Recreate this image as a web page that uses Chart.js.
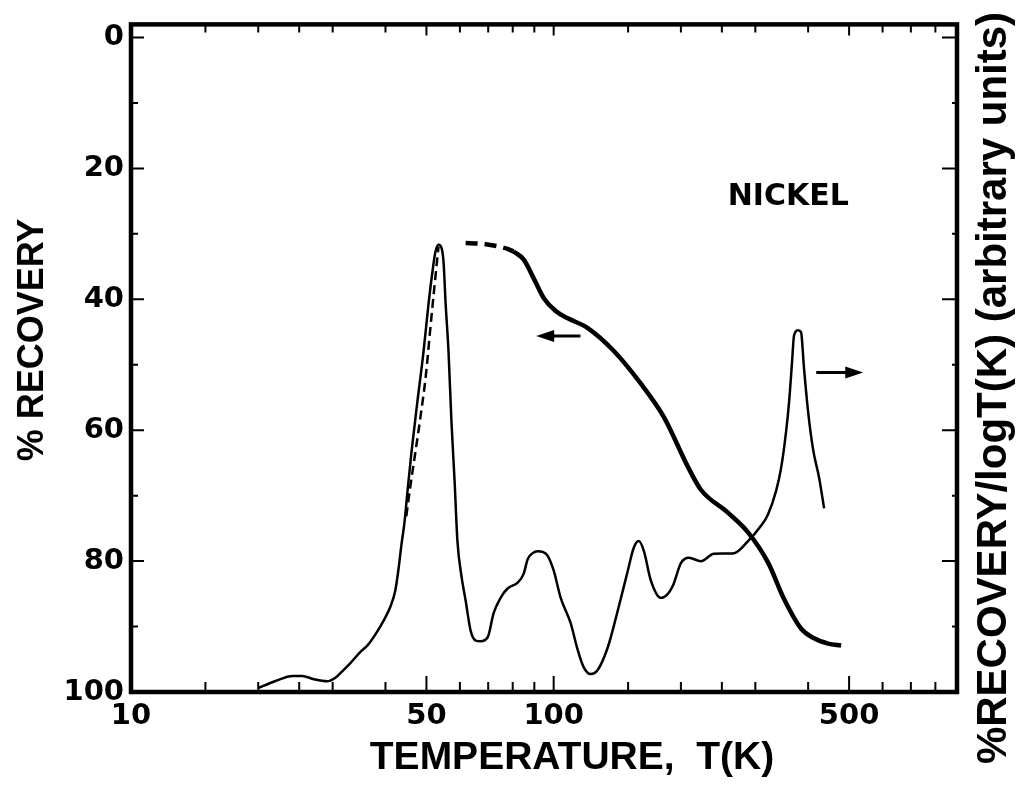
<!DOCTYPE html>
<html>
<head>
<meta charset="utf-8">
<script src="https://cdn.jsdelivr.net/npm/chart.js@4.4.1/dist/chart.umd.min.js"></script>
<style>
html, body { margin: 0; padding: 0; background: #fff; }
#wrap { width: 1021px; height: 794px; }
</style>
</head>
<body>
<div id="wrap"><canvas id="nickel"></canvas></div>
<script>
// % recovery vs T (left axis, thick curve); dashed part at low T
const recDashT = [61.9, 67.1, 70.9, 74.9, 77.8, 80.4];
const recDashV = [31.4, 31.5, 31.7, 32.0, 32.3, 32.7];
const recT = [80.4, 84.9, 89.7, 94.7, 101.1, 108.0, 120.4, 138.8, 160.8, 182.3, 207.8, 223.0, 258.4, 288.3, 321.4, 350.8, 384.8, 413.2, 446.0, 478.7];
const recV = [32.7, 33.9, 36.8, 39.8, 41.8, 42.9, 44.4, 47.9, 52.9, 58.0, 65.6, 69.1, 72.6, 75.6, 80.2, 85.8, 90.3, 91.8, 92.6, 92.9];

// %recovery / logT (right axis, arbitrary units, thin curve)
const derT = [20.0, 21.1, 22.5, 24.1, 25.4, 27.1, 29.1, 30.4, 31.6, 33.0, 34.9, 36.4, 38.1, 39.6, 41.1, 42.2, 42.9, 43.6, 44.4, 45.1,
  46.1, 47.6, 49.2, 50.6, 51.7, 52.5, 53.4, 54.3, 54.9, 55.5, 56.4, 57.3, 58.3, 59.2, 60.5, 61.9, 63.6, 65.4, 67.1, 69.8,
  72.1, 74.9, 77.8, 82.2, 84.9, 86.8, 89.2, 91.6, 94.2, 96.8, 100, 103.9, 109.7, 114.0, 117.8, 122.4, 127.1, 134.3, 141.8, 149.8,
  154.7, 159.0, 163.5, 169.8, 179.3, 186.3, 191.4, 200.0, 208.9, 223.0, 239.4, 267.1, 288.3, 309.4, 321.4, 335.8, 345.1, 354.7, 360.6, 366.4,
  370.4, 378.6, 384.8, 391.2, 399.9, 411.0, 424.6, 436.4];
const derV = [0.6, 1.2, 1.9, 2.4, 2.4, 1.9, 1.6, 2.1, 3.1, 4.3, 6.0, 7.1, 8.9, 10.7, 12.8, 15.2, 18.2, 21.9, 25.6, 30.1,
  36.0, 43.5, 50.9, 58.3, 63.1, 65.9, 67.0, 66.5, 64.3, 58.3, 50.9, 40.5, 31.5, 22.6, 17.4, 13.7, 9.2, 7.7, 7.6, 8.2,
  11.8, 14.1, 15.5, 16.4, 17.7, 19.9, 20.8, 21.1, 21.0, 20.4, 18.2, 14.1, 10.3, 6.3, 3.7, 2.7, 3.3, 6.7, 12.2, 18.2,
  21.6, 22.6, 21.1, 16.7, 14.1, 14.7, 15.9, 19.3, 20.1, 19.6, 20.7, 20.8, 22.6, 24.9, 26.6, 30.1, 33.5, 39.0, 43.5, 49.4,
  53.4, 54.2, 53.9, 48.4, 42.0, 36.3, 32.1, 27.5];
const derDashT = [44.8, 45.8, 47.1, 48.4, 49.8, 51.1, 52.2, 53.4];
const derDashV = [26.3, 30.8, 36.0, 41.2, 47.2, 54.6, 60.6, 66.7];

// ticks
const xTickLabels = [10, 50, 100, 500];
const yTickLabels = [0, 20, 40, 60, 80, 100];
const xMinor = [15, 20, 25, 30, 40, 60, 70, 80, 90, 150, 200, 250, 300, 400, 600, 700, 800];
const xMajor = [50, 100, 500];
const yMajor = [0, 20, 40, 60, 80];
const yMinor = [10, 30, 50, 70, 90];

// arrows pointing to each curve's axis (T, % recovery)
const arrowTailT = [115.7, 418];
const arrowHeadT = [90.9, 540];
const arrowV = [45.6, 51.2];

const pts = (xs, ys) => xs.map((t, i) => ({ x: t, y: ys[i] }));
const tickFont = { family: 'DejaVu Sans', weight: 'bold', size: 29 };

const decor = {
    id: 'decor',
    afterDatasetsDraw(chart) {
        const { ctx, chartArea: a, scales: { x, y } } = chart;
        ctx.save();
        ctx.strokeStyle = '#000';
        ctx.fillStyle = '#000';

        // frame
        ctx.lineWidth = 4.5;
        ctx.strokeRect(a.left, a.top, a.right - a.left, a.bottom - a.top);

        // inward ticks
        ctx.lineWidth = 2;
        ctx.beginPath();
        const tx = (v, lb, lt) => {
            const px = x.getPixelForValue(v);
            ctx.moveTo(px, a.bottom); ctx.lineTo(px, a.bottom - lb);
            ctx.moveTo(px, a.top); ctx.lineTo(px, a.top + lt);
        };
        const ty = (v, ll, lr) => {
            const py = y.getPixelForValue(v);
            ctx.moveTo(a.left, py); ctx.lineTo(a.left + ll, py);
            ctx.moveTo(a.right, py); ctx.lineTo(a.right - lr, py);
        };
        xMinor.forEach(v => tx(v, 10, 8));
        xMajor.forEach(v => tx(v, 16, 11));
        yMinor.forEach(v => ty(v, 7, 5));
        yMajor.forEach(v => ty(v, 13, 15));
        ctx.stroke();

        // arrows
        ctx.lineWidth = 3;
        arrowV.forEach((v, i) => {
            const x0 = x.getPixelForValue(arrowTailT[i]);
            const x1 = x.getPixelForValue(arrowHeadT[i]);
            const py = y.getPixelForValue(v);
            const dir = Math.sign(x1 - x0);
            ctx.beginPath();
            ctx.moveTo(x0, py);
            ctx.lineTo(x1 - dir * 12, py);
            ctx.stroke();
            ctx.beginPath();
            ctx.moveTo(x1, py);
            ctx.lineTo(x1 - dir * 18, py - 6);
            ctx.lineTo(x1 - dir * 18, py + 6);
            ctx.closePath();
            ctx.fill();
        });

        // texts
        ctx.textAlign = 'center';
        ctx.textBaseline = 'middle';
        ctx.font = 'bold 30px "DejaVu Sans"';
        ctx.fillText('NICKEL', x.getPixelForValue(359), y.getPixelForValue(24.4));

        ctx.font = 'bold 39px "Liberation Sans"';
        ctx.fillText('TEMPERATURE,  T(K)', 572, 758);

        ctx.save();
        ctx.translate(33, 340);
        ctx.rotate(-Math.PI / 2);
        ctx.font = 'bold 36px "Liberation Sans"';
        ctx.fillText('% RECOVERY', 0, 0);
        ctx.restore();

        ctx.save();
        ctx.translate(994, 388);
        ctx.rotate(-Math.PI / 2);
        ctx.font = 'bold 42px "Liberation Sans"';
        ctx.fillText('%RECOVERY/logT(K) (arbitrary units)', 0, 0);
        ctx.restore();

        ctx.restore();
    }
};

new Chart(document.getElementById('nickel'), {
    type: 'line',
    data: {
        datasets: [
            { data: pts(derT, derV), yAxisID: 'y2', borderColor: '#000', borderWidth: 2.5, pointRadius: 0, cubicInterpolationMode: 'monotone' },
            { data: pts(derDashT, derDashV), yAxisID: 'y2', borderColor: '#000', borderWidth: 2.5, borderDash: [9, 5], pointRadius: 0, cubicInterpolationMode: 'monotone' },
            { data: pts(recT, recV), yAxisID: 'y', borderColor: '#000', borderWidth: 4.5, pointRadius: 0, cubicInterpolationMode: 'monotone' },
            { data: pts(recDashT, recDashV), yAxisID: 'y', borderColor: '#000', borderWidth: 4.5, borderDash: [12, 7], pointRadius: 0, cubicInterpolationMode: 'monotone' }
        ]
    },
    options: {
        responsive: true,
        maintainAspectRatio: false,
        animation: false,
        layout: { padding: { top: 20, right: 64, left: 0, bottom: 0 } },
        plugins: { legend: { display: false }, tooltip: { enabled: false } },
        scales: {
            x: {
                type: 'logarithmic',
                min: 10,
                max: 900,
                afterBuildTicks: s => { s.ticks = xTickLabels.map(v => ({ value: v })); },
                afterFit: s => { s.height = 102; },
                ticks: { autoSkip: false, maxRotation: 0, color: '#000', font: tickFont, padding: 7, callback: v => String(v) },
                grid: { display: false, drawTicks: false },
                border: { display: false }
            },
            y: {
                type: 'linear',
                reverse: true,
                min: -2,
                max: 100,
                afterBuildTicks: s => { s.ticks = yTickLabels.map(v => ({ value: v })); },
                afterFit: s => { s.width = 131; },
                ticks: { color: '#000', font: tickFont, padding: 7 },
                grid: { display: false, drawTicks: false },
                border: { display: false }
            },
            y2: { type: 'linear', display: false, min: 0, max: 100 }
        }
    },
    plugins: [decor]
});
</script>
</body>
</html>
